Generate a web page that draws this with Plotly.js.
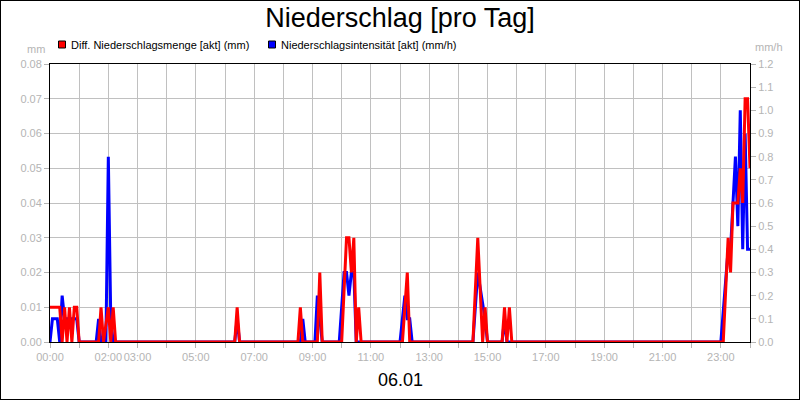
<!DOCTYPE html>
<html>
<head>
<meta charset="utf-8">
<script src="https://cdn.plot.ly/plotly-3.0.1.min.js"></script>
<style>
  html, body { margin: 0; padding: 0; background: #fff; }
  #wrap { position: relative; width: 800px; height: 400px; }
  #chart { width: 800px; height: 400px; }
  #frame { position: absolute; left: 0; top: 0; width: 800px; height: 400px; box-sizing: border-box; border: 1px solid #000; pointer-events: none; z-index: 10; }
</style>
</head>
<body>
<div id="wrap"><div id="chart"></div><div id="frame"></div></div>
<script>
// ---- data (times as HH:MM) ----
const mengeTimes = ["00:00","00:20","00:25","00:30","00:35","00:40","00:45","00:50","00:55","01:00",
  "01:40","01:45","01:50","02:00","02:05","02:10","02:15",
  "06:20","06:25","06:30",
  "08:30","08:35","08:40",
  "09:10","09:15","09:20",
  "10:00","10:10","10:15","10:20","10:25","10:30","10:35","10:40",
  "12:05","12:15","12:20",
  "14:30","14:40","14:50","14:55","15:00",
  "15:30","15:35","15:40","15:45","15:50",
  "23:05","23:15","23:20","23:25","23:35","23:40","23:45","23:50","23:55","24:00"];
const mengeValues = [0.01,0.01,0,0.01,0,0.01,0,0.01,0.01,0,
  0,0.01,0,0.01,0,0.01,0,
  0,0.01,0,
  0,0.01,0,
  0,0.02,0,
  0,0.03,0.03,0.02,0.03,0,0.01,0,
  0,0.02,0,
  0,0.03,0,0.01,0,
  0,0.01,0,0.01,0,
  0,0.03,0.02,0.04,0.04,0.05,0.04,0.07,0.07,0.05];

const intensTimes = ["00:00","00:05","00:15","00:20","00:25","00:30","00:55","01:00",
  "01:35","01:40","01:45","01:55","02:00","02:05","02:10",
  "06:20","06:25","06:30",
  "08:35","08:40","08:45",
  "09:05","09:10","09:15","09:20",
  "09:55","10:05","10:10","10:15","10:20","10:25","10:30",
  "12:00","12:10","12:15","12:20","12:25",
  "14:30","14:40","14:55","15:00",
  "15:30","15:35","15:40",
  "23:00","23:15","23:20","23:30","23:35","23:40","23:45","23:50","23:55","24:00"];
const intensValues = [0,0.1,0.1,0,0.2,0.1,0.1,0,
  0,0.1,0,0,0.8,0.1,0,
  0,0.1,0,
  0,0.1,0,
  0,0.2,0.1,0,
  0,0.3,0.3,0.2,0.3,0.3,0,
  0,0.2,0.1,0.1,0,
  0,0.3,0.1,0,
  0,0.1,0,
  0,0.4,0.4,0.8,0.5,1.0,0.4,0.9,0.4,0.4];

const xTickLabels = ["00:00","02:00","03:00","05:00","07:00","09:00","11:00","13:00","15:00","17:00","19:00","21:00","23:00"];
const seriesNames = ["Diff. Niederschlagsmenge [akt] (mm)", "Niederschlagsintensität [akt] (mm/h)"];
const chartTitle = "Niederschlag [pro Tag]";
const dateLabel = "06.01";

// ---- helpers ----
const toMin = s => { const p = s.split(":"); return (+p[0]) * 60 + (+p[1]); };
const hourMarks = [];
for (let h = 0; h <= 24; h++) hourMarks.push(h * 60);

const gray = "#b4b4b4";
const grid = "#c0c0c0";
const font = "Liberation Sans, Arial, sans-serif";

// blue (intensity) on the primary (right) axis, red (amount) on the overlaying left axis so it is drawn on top
const traces = [
  { x: intensTimes.map(toMin), y: intensValues, yaxis: "y", type: "scatter", mode: "lines",
    line: { color: "#0000ff", width: 3 }, name: seriesNames[1], hoverinfo: "skip" },
  { x: mengeTimes.map(toMin), y: mengeValues, yaxis: "y2", type: "scatter", mode: "lines",
    line: { color: "#ff0000", width: 3 }, name: seriesNames[0], hoverinfo: "skip" }
];

const px = v => (v - 50) / 700;        // pixel x -> paper x
const py = v => (342 - v) / 278;       // pixel y -> paper y

const layout = {
  width: 800, height: 400,
  margin: { l: 50, r: 50, t: 64, b: 58, pad: 0 },
  paper_bgcolor: "#fff", plot_bgcolor: "#fff",
  showlegend: false,
  hovermode: false,
  font: { family: font, size: 11, color: gray },
  title: { text: chartTitle, x: 0.5, xanchor: "center", xref: "paper", y: 1 - 18 / 400, yref: "container", yanchor: "middle",
           font: { family: font, size: 27, color: "#000" } },
  xaxis: {
    range: [0, 1440], fixedrange: true,
    tickmode: "array", tickvals: xTickLabels.map(toMin), ticktext: xTickLabels, tickangle: 0,
    ticks: "outside", ticklen: 5, tickcolor: gray, tickwidth: 1,
    showgrid: true, gridcolor: grid, gridwidth: 1,
    minor: { tickmode: "array", tickvals: hourMarks, ticks: "outside", ticklen: 5, tickcolor: gray, showgrid: true, gridcolor: grid, gridwidth: 1 },
    showline: true, linecolor: "#000", linewidth: 1, mirror: true,
    zeroline: false,
    tickfont: { family: font, size: 11, color: gray }
  },
  yaxis: {
    range: [0, 1.2], fixedrange: true, dtick: 0.1, tick0: 0, tickformat: ".1f",
    side: "right",
    ticks: "outside", ticklen: 5, tickcolor: gray,
    showgrid: false, showline: true, linecolor: "#000", linewidth: 1, mirror: true,
    zeroline: false,
    tickfont: { family: font, size: 11, color: gray }
  },
  yaxis2: {
    range: [0, 0.08], fixedrange: true, dtick: 0.01, tick0: 0, tickformat: ".2f",
    overlaying: "y", side: "left",
    ticks: "outside", ticklen: 5, tickcolor: gray,
    showgrid: true, gridcolor: grid, gridwidth: 1,
    showline: true, linecolor: "#000", linewidth: 1,
    zeroline: false,
    tickfont: { family: font, size: 11, color: gray }
  },
  shapes: [
    { type: "rect", xref: "paper", yref: "paper", x0: px(58.5), x1: px(65.5), y0: py(48), y1: py(41),
      fillcolor: "#ff0000", line: { color: "#000", width: 1 } },
    { type: "rect", xref: "paper", yref: "paper", x0: px(268.5), x1: px(275.5), y0: py(48), y1: py(41),
      fillcolor: "#0000ff", line: { color: "#000", width: 1 } }
  ],
  annotations: [
    { text: seriesNames[0], xref: "paper", yref: "paper", x: px(69), y: py(44.5), xanchor: "left", yanchor: "middle",
      showarrow: false, font: { family: font, size: 11, color: "#000" } },
    { text: seriesNames[1], xref: "paper", yref: "paper", x: px(279), y: py(44.5), xanchor: "left", yanchor: "middle",
      showarrow: false, font: { family: font, size: 11, color: "#000" } },
    { text: "mm", xref: "paper", yref: "paper", x: px(47), y: py(49), xanchor: "right", yanchor: "middle",
      showarrow: false, font: { family: font, size: 11, color: gray } },
    { text: "mm/h", xref: "paper", yref: "paper", x: px(753), y: py(47), xanchor: "left", yanchor: "middle",
      showarrow: false, font: { family: font, size: 11, color: gray } },
    { text: dateLabel, xref: "paper", yref: "paper", x: 0.5, y: py(380), xanchor: "center", yanchor: "middle",
      showarrow: false, font: { family: font, size: 18, color: "#000" } }
  ]
};

Plotly.newPlot("chart", traces, layout, { staticPlot: true, displayModeBar: false });
</script>
</body>
</html>
